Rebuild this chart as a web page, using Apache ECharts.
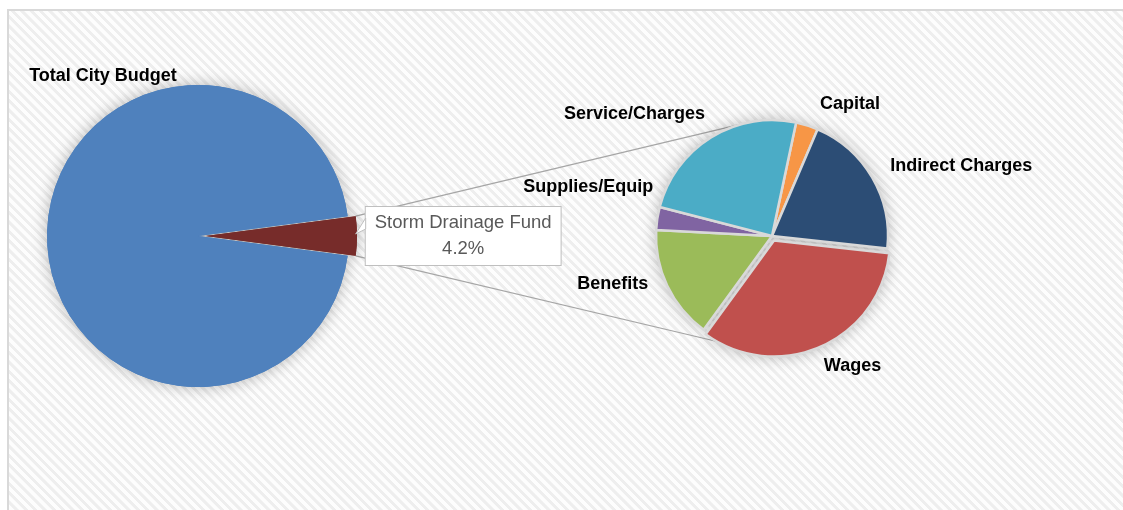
<!DOCTYPE html>
<html>
<head>
<meta charset="utf-8">
<script src="https://cdn.jsdelivr.net/npm/echarts@6/dist/echarts.min.js"></script>
<style>
  html, body { margin: 0; padding: 0; background: #fff; width: 1123px; height: 510px; overflow: hidden; }
  #frame {
    position: absolute; left: 7px; top: 9px; width: 1140px; height: 530px;
    border: 2px solid #d9d9d9; box-sizing: border-box;
    background: repeating-linear-gradient(45deg, #fdfdfd 0px, #fdfdfd 3.2px, #eeeeee 3.6px, #eeeeee 6.2px, #fdfdfd 6.6px);
  }
  #chart { position: absolute; left: 0; top: 0; width: 1123px; height: 510px; }
</style>
</head>
<body>
<div id="frame"></div>
<div id="chart"></div>
<script>
// Share of the whole city budget
const budgetNames = ['Storm Drainage Fund', 'Total City Budget'];
const budgetShares = [4.2, 95.8];

// Breakdown of the storm drainage fund (percent)
const fundNames = ['Capital', 'Indirect Charges', 'Wages', 'Benefits', 'Supplies/Equip', 'Service/Charges'];
const fundShares = [3.1, 20.3, 33.3, 15.8, 3.2, 24.3];

const budgetColors = ['#772c2a', '#4f81bd'];
const fundColors = ['#f79646', '#2c4d75', '#c0504d', '#9bbb59', '#8064a2', '#4bacc6'];

// Pie geometry (pixels)
const main = { cx: 198, cy: 236, r: 151, pull: 8 };
const sub = { cx: 772, cy: 236, r: 116, startAngle: 78, pull: 5 };
// where the connector lines meet the breakdown pie (degrees clockwise from 12 o'clock)
const connectAngles = [345.7, 199.7];

// Category label placement: offset from the slice's outer edge midpoint, and text anchor side
const labelNudge = {
  'Capital': [13, -21, 'left'],
  'Indirect Charges': [18, -11, 'left'],
  'Wages': [5, 24, 'left'],
  'Benefits': [-19, -2, 'right'],
  'Supplies/Equip': [-4, -31, 'right'],
  'Service/Charges': [-6, -23, 'right']
};

const labelFont = "'Liberation Sans', Arial, sans-serif";
const boldFont = 'bold 18px ' + labelFont;

const chart = echarts.init(document.getElementById('chart'), null, { renderer: 'canvas' });

// The highlighted slice is centred on 3 o'clock
const budgetTotal = budgetShares.reduce((a, b) => a + b, 0);
const halfSpan = budgetShares[0] / budgetTotal * 180;

// Connector endpoints derived from both pies' geometry
const rad = d => d * Math.PI / 180;
const edgeX = main.cx + main.pull + main.r * Math.cos(rad(halfSpan));
const leftTop = [edgeX, main.cy - main.r * Math.sin(rad(halfSpan))];
const leftBot = [edgeX, main.cy + main.r * Math.sin(rad(halfSpan))];
const rightPt = (a, r) => [sub.cx + r * Math.sin(rad(a)), sub.cy - r * Math.cos(rad(a))];
const rightTop = rightPt(connectAngles[0], sub.r);
const rightBot = rightPt(connectAngles[1], sub.r);

// Callout box beside the highlighted slice
const boxLeft = edgeX + 9;
const boxW = 197;
const calloutText = budgetNames[0] + '\n' + budgetShares[0].toFixed(1) + '%';

// Category labels around the breakdown pie, placed from each slice's mid-angle
const fundTotal = fundShares.reduce((a, b) => a + b, 0);
const fundLabels = [];
let swept = 90 - sub.startAngle;
fundNames.forEach((name, i) => {
  const span = fundShares[i] / fundTotal * 360;
  const mid = swept + span / 2;
  swept += span;
  const [ax, ay] = rightPt(mid, sub.r);
  const [dx, dy, side] = labelNudge[name];
  fundLabels.push({
    type: 'text', z: 12,
    x: ax + dx, y: ay + dy,
    style: { text: name, align: side, verticalAlign: 'middle', font: boldFont, fill: '#000' }
  });
});

// Each pie is drawn twice: a shadowed base underneath and the clean slices on top,
// so the soft drop shadow never darkens neighbouring slices.
function pieLayer(cfg, names, values, colors, selectedName, shadowed, extraStyle) {
  return {
    type: 'pie',
    z: shadowed ? 1 : 2,
    silent: true,
    center: [cfg.cx, cfg.cy],
    radius: cfg.r,
    startAngle: cfg.startAngle,
    clockwise: true,
    selectedMode: 'multiple',
    selectedOffset: cfg.pull,
    emphasis: { disabled: true },
    itemStyle: shadowed
      ? { shadowBlur: 16, shadowColor: 'rgba(0,0,0,0.28)' }
      : Object.assign({}, extraStyle || {}),
    label: { show: false },
    labelLine: { show: false },
    data: names.map((n, i) => ({
      name: n,
      value: values[i],
      selected: n === selectedName,
      itemStyle: { color: colors[i] }
    }))
  };
}

const mainCfg = Object.assign({ startAngle: halfSpan }, main);
const gapStyle = { borderColor: '#d9d9d9', borderWidth: 2.5 };

chart.setOption({
  animation: false,
  graphic: [
    { type: 'line', z: 1, shape: { x1: leftTop[0], y1: leftTop[1], x2: rightTop[0], y2: rightTop[1] }, style: { stroke: '#a6a6a6', lineWidth: 1.2 } },
    { type: 'line', z: 1, shape: { x1: leftBot[0], y1: leftBot[1], x2: rightBot[0], y2: rightBot[1] }, style: { stroke: '#a6a6a6', lineWidth: 1.2 } },
    {
      type: 'text', z: 10,
      x: boxLeft + boxW / 2, y: main.cy,
      style: {
        text: calloutText,
        align: 'center', verticalAlign: 'middle',
        font: '18.5px ' + labelFont,
        lineHeight: 26,
        fill: '#595959',
        backgroundColor: '#ffffff',
        borderColor: '#bfbfbf', borderWidth: 1,
        padding: [3, 9, 3, 9]
      }
    },
    {
      type: 'polygon', z: 11,
      shape: { points: [[boxLeft + 1, main.cy - 18], [edgeX, main.cy - 2], [boxLeft + 1, main.cy - 7]] },
      style: { fill: '#ffffff', stroke: '#bfbfbf', lineWidth: 1 }
    },
    {
      type: 'text', z: 10,
      x: main.cx - 95, y: main.cy - main.r - 9,
      style: {
        text: budgetNames[1],
        align: 'center', verticalAlign: 'middle',
        font: boldFont,
        fill: '#000'
      }
    }
  ].concat(fundLabels),
  series: [
    pieLayer(mainCfg, budgetNames, budgetShares, budgetColors, budgetNames[0], true),
    pieLayer(mainCfg, budgetNames, budgetShares, budgetColors, budgetNames[0], false),
    pieLayer(sub, fundNames, fundShares, fundColors, 'Wages', true),
    pieLayer(sub, fundNames, fundShares, fundColors, 'Wages', false, gapStyle)
  ]
});
</script>
</body>
</html>
